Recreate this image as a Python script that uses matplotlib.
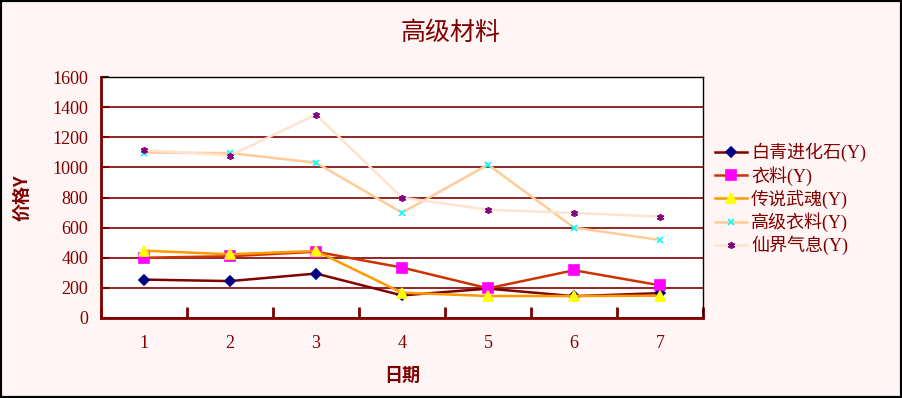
import matplotlib.pyplot as plt
from matplotlib.patches import Rectangle
import numpy as np

# ===== Data =====
days = ["1", "2", "3", "4", "5", "6", "7"]
baiqing = [255, 245, 295, 150, 195, 145, 165]       # 白青进化石
yiliao = [400, 410, 440, 335, 197, 317, 217]        # 衣料
chuanshuo = [447, 423, 445, 168, 146, 146, 148]     # 传说武魂
gaoji = [1098, 1095, 1031, 699, 1018, 600, 518]     # 高级衣料
xianjie = [1115, 1078, 1350, 799, 719, 697, 673]    # 仙界气息

names = ["白青进化石(Y)", "衣料(Y)", "传说武魂(Y)", "高级衣料(Y)", "仙界气息(Y)"]
series = [baiqing, yiliao, chuanshuo, gaoji, xianjie]

# ===== Styling =====
dark_red = "#800000"
bg = "#FFF5F5"
line_colors = ["#800000", "#CC3300", "#FF9900", "#FFCC99", "#FFE3D0"]
marker_colors = ["#000080", "#FF00FF", "#FFFF00", "#00FFFF", "#800080"]
markers = ["D", "s", "^", "x", (6, 2, 0)]
marker_sizes = [5, 7, 7, 4.5, 5]
serif_cjk = ["Liberation Serif", "Noto Sans CJK SC"]

fig = plt.figure(figsize=(9.02, 3.98), dpi=100, facecolor=bg)
ax = fig.add_axes([101 / 902, 1 - 318 / 398, 602 / 902, 241 / 398])
ax.set_facecolor("white")

x = np.arange(1, len(days) + 1)
for vals, name, lc, mc, mk, ms in zip(series, names, line_colors, marker_colors,
                                      markers, marker_sizes):
    ax.plot(x, vals, color=lc, linewidth=1.8, marker=mk, markersize=ms,
            markerfacecolor=mc, markeredgecolor=mc, markeredgewidth=1.2, label=name)

ax.set_xlim(0.5, 7.5)
ax.set_ylim(0, 1600)
ax.set_yticks(np.arange(0, 1601, 200))
ax.set_xticks(x)
ax.set_xticklabels(days)
ax.set_xticks(np.arange(0.5, 7.6, 1), minor=True)

# grid
ax.yaxis.grid(True, color=dark_red, linewidth=1.2)
ax.set_axisbelow(True)

# spines
ax.spines["left"].set_color(dark_red)
ax.spines["left"].set_linewidth(2)
ax.spines["bottom"].set_color(dark_red)
ax.spines["bottom"].set_linewidth(2)
ax.spines["top"].set_color("black")
ax.spines["right"].set_color("black")
ax.spines["top"].set_linewidth(1)
ax.spines["right"].set_linewidth(1)

# ticks
ax.tick_params(axis="y", direction="in", length=6, width=1.5, color=dark_red,
               labelcolor=dark_red, labelsize=13, pad=9)
ax.tick_params(axis="x", which="major", length=0, labelcolor=dark_red,
               labelsize=13, pad=12)
ax.tick_params(axis="x", which="minor", direction="in", length=8, width=2,
               color=dark_red)
for lab in ax.get_xticklabels() + ax.get_yticklabels():
    lab.set_family(serif_cjk)

# labels
ax.set_xlabel("日期", fontsize=13, fontweight="bold", color=dark_red,
              family=["Noto Sans CJK SC"], labelpad=10)
ax.set_ylabel("价格Y", fontsize=13, fontweight="bold", color=dark_red,
              family=["Noto Sans CJK SC"], labelpad=15)
fig.text(0.5, 1 - 33 / 398, "高级材料", ha="center", va="center", fontsize=18,
         color=dark_red, family=["Noto Sans CJK SC"])

# legend
leg = fig.legend(loc="upper left", bbox_to_anchor=(706 / 902, 1 - 134 / 398),
                 frameon=False, handlelength=1.75, handletextpad=0.25,
                 labelspacing=0.2, borderpad=0,
                 prop={"family": serif_cjk, "size": 13})
for t in leg.get_texts():
    t.set_color(dark_red)

# black frame around the whole picture
fig.patches.append(Rectangle((0, 0), 1, 1, transform=fig.transFigure,
                             fill=False, edgecolor="black", linewidth=3))

fig.savefig("out.png", dpi=100, facecolor=bg)
